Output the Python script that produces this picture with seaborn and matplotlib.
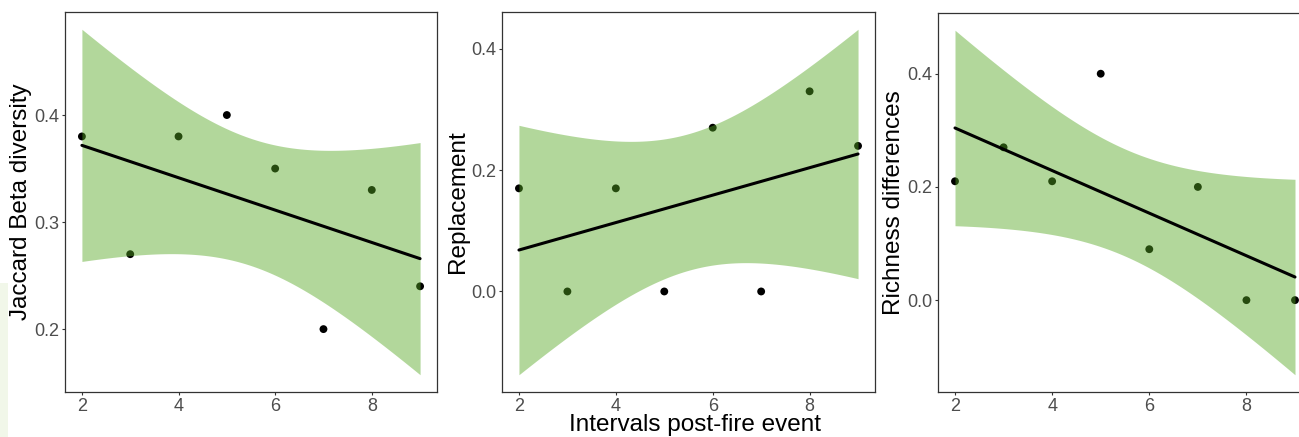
import numpy as np
import pandas as pd
import seaborn as sns
import matplotlib.pyplot as plt
from matplotlib.patches import Rectangle

# intervals post-fire event
intervals = [2, 3, 4, 5, 6, 7, 8, 9]
jaccard = [0.38, 0.27, 0.38, 0.40, 0.35, 0.20, 0.33, 0.24]
replacement = [0.17, 0.00, 0.17, 0.00, 0.27, 0.00, 0.33, 0.24]
richness = [0.21, 0.27, 0.21, 0.40, 0.09, 0.20, 0.00, 0.00]

panels = [
    ("Jaccard Beta diversity", jaccard, [0.2, 0.3, 0.4]),
    ("Replacement", replacement, [0.0, 0.2, 0.4]),
    ("Richness differences", richness, [0.0, 0.2, 0.4]),
]

T_975_DF6 = 2.446912  # t quantile for 95% CI with n-2 = 6 df

sns.set_theme(style="ticks")
plt.rcParams["font.family"] = ["Liberation Sans", "DejaVu Sans"]


def lm_band(x, y, xs):
    # analytic 95% confidence band of a simple linear fit (like geom_smooth)
    x = np.asarray(x, float)
    y = np.asarray(y, float)
    n = len(x)
    b, a = np.polyfit(x, y, 1)
    resid = y - (a + b * x)
    s = np.sqrt(np.sum(resid ** 2) / (n - 2))
    sxx = np.sum((x - x.mean()) ** 2)
    fit = a + b * xs
    se = s * np.sqrt(1.0 / n + (xs - x.mean()) ** 2 / sxx)
    return fit - T_975_DF6 * se, fit + T_975_DF6 * se


W, H = 1299, 437
fig = plt.figure(figsize=(W / 100, H / 100), dpi=100)
fig.patches.append(Rectangle((0, 0), 8 / W, (437 - 283) / H, transform=fig.transFigure,
                             facecolor="#f1f7e9", edgecolor="none", zorder=0))

boxes = [(65, 437, 12), (502, 875, 12), (938, 1312, 13)]
band_color = "#56a823"
axes = []
for (label, vals, yticks), (l, r, t) in zip(panels, boxes):
    ax = fig.add_axes([l / W, (H - 392) / H, (r - l) / W, (392 - t) / H])
    df = pd.DataFrame({"interval": intervals, "value": vals})

    sns.scatterplot(data=df, x="interval", y="value", color="black", s=32,
                    edgecolor="none", ax=ax, zorder=1)

    xs = np.linspace(min(intervals), max(intervals), 100)
    lo, hi = lm_band(intervals, vals, xs)
    ax.fill_between(xs, lo, hi, color=band_color, alpha=0.45, linewidth=0, zorder=2)

    sns.regplot(data=df, x="interval", y="value", scatter=False, ci=None, ax=ax,
                line_kws={"color": "black", "linewidth": 2.2, "zorder": 3})

    # ggplot-style 5% expansion
    ymin = min(min(vals), lo.min())
    ymax = max(max(vals), hi.max())
    ypad = (ymax - ymin) * 0.05
    ax.set_ylim(ymin - ypad, ymax + ypad)
    ax.set_xlim(2 - 0.35, 9 + 0.35)

    ax.set_xticks([2, 4, 6, 8])
    ax.set_yticks(yticks)
    ax.set_yticklabels([f"{v:.1f}" for v in yticks])
    ax.set_xlabel("")
    ax.set_ylabel(label, fontsize=17.5, color="black", labelpad=2)

    for sp in ax.spines.values():
        sp.set_visible(True)
        sp.set_color("#333333")
        sp.set_linewidth(0.9)
    ax.tick_params(axis="both", length=2.5, width=0.8, color="#333333",
                   labelsize=13, labelcolor="#4d4d4d", pad=1.5)
    axes.append(ax)

axes[1].set_xlabel("Intervals post-fire event", fontsize=17.5, color="black")
axes[1].xaxis.set_label_coords((695 - 502) / 373, -(414 - 392) / 380)

fig.savefig("out.png", dpi=100)
